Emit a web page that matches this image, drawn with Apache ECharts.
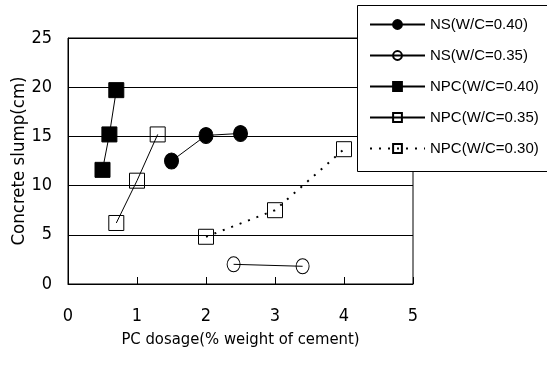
<!DOCTYPE html>
<html>
<head>
<meta charset="utf-8">
<script src="https://cdn.jsdelivr.net/npm/echarts@6/dist/echarts.min.js"></script>
<style>
  html, body { margin: 0; padding: 0; background: #fff; }
  #chart { width: 547px; height: 368px; }
</style>
</head>
<body>
<div id="chart"></div>
<script>
// Slump vs. PC dosage for each mix
const nsW040  = [[1.5, 12.5], [2.0, 15.1], [2.5, 15.3]];
const nsW035  = [[2.4, 2.0], [3.4, 1.8]];
const npcW040 = [[0.5, 11.6], [0.6, 15.2], [0.7, 19.7]];
const npcW035 = [[0.7, 6.2], [1.0, 10.5], [1.3, 15.2]];
const npcW030 = [[2.0, 4.8], [3.0, 7.5], [4.0, 13.7]];

const seriesNames = ['NS(W/C=0.40)', 'NS(W/C=0.35)', 'NPC(W/C=0.40)', 'NPC(W/C=0.35)', 'NPC(W/C=0.30)'];
const xTicks = [0, 1, 2, 3, 4, 5];
const yTicks = [0, 5, 10, 15, 20, 25];

const axisFont = 'DejaVu Sans Condensed, sans-serif';
const titleFont = 'DejaVu Sans Condensed, sans-serif';

function lineSeries(name, data, symbol, size, filled, dashed) {
  return {
    name: name,
    type: 'line',
    data: data,
    symbol: symbol,
    symbolSize: size,
    showSymbol: true,
    animation: false,
    lineStyle: { color: '#000', width: dashed ? 2 : 1, type: dashed ? [2, 7] : 'solid' },
    itemStyle: {
      color: filled ? '#000' : 'transparent',
      borderColor: '#000',
      borderWidth: 1
    },
    z: 2
  };
}

const chart = echarts.init(document.getElementById('chart'), null, { renderer: 'canvas' });
chart.setOption({
  animation: false,
  backgroundColor: '#fff',
  grid: {
    left: 68, top: 38, right: 134, bottom: 84,
    containLabel: false,
    outerBoundsMode: 'none',
    show: true, borderColor: '#000', borderWidth: 1, backgroundColor: 'transparent'
  },
  xAxis: {
    type: 'value',
    min: xTicks[0], max: xTicks[xTicks.length - 1], interval: 1,
    name: 'PC dosage(% weight of cement)',
    nameLocation: 'middle',
    nameGap: 47,
    nameMoveOverlap: false,
    nameTextStyle: { fontFamily: titleFont, fontSize: 16.5, color: '#000' },
    axisLine: { lineStyle: { color: '#000', width: 1 } },
    axisTick: { show: true, inside: true, length: 7, lineStyle: { color: '#000' } },
    axisLabel: { margin: 23, fontFamily: axisFont, fontSize: 18, color: '#000' },
    splitLine: { show: false }
  },
  yAxis: {
    type: 'value',
    min: yTicks[0], max: yTicks[yTicks.length - 1], interval: 5,
    name: 'Concrete slump(cm)',
    nameLocation: 'middle',
    nameGap: 39,
    nameMoveOverlap: false,
    nameTextStyle: { fontFamily: titleFont, fontSize: 18.5, color: '#000' },
    axisLine: { show: true, lineStyle: { color: '#000', width: 1 } },
    axisTick: { show: false },
    axisLabel: { margin: 16, fontFamily: axisFont, fontSize: 18, color: '#000' },
    splitLine: { show: true, lineStyle: { color: '#000', width: 1 } }
  },
  graphic: [{
    type: 'rect',
    shape: { x: 357.5, y: 5.5, width: 190, height: 166 },
    style: { fill: '#fff', stroke: '#000', lineWidth: 1 },
    z: 3
  }],
  legend: {
    orient: 'vertical',
    left: 369, top: 17,
    padding: 0,
    itemWidth: 55, itemHeight: 11, itemGap: 16,
    selectedMode: false,
    data: seriesNames,
    textStyle: { fontFamily: 'Liberation Sans, Arial, sans-serif', fontSize: 15, color: '#000' },
    z: 4
  },
  series: [
    lineSeries(seriesNames[0], nsW040, 'circle', [14, 16], true, false),
    lineSeries(seriesNames[1], nsW035, 'circle', [13, 15], false, false),
    lineSeries(seriesNames[2], npcW040, 'rect', 15, true, false),
    lineSeries(seriesNames[3], npcW035, 'rect', 15, false, false),
    lineSeries(seriesNames[4], npcW030, 'rect', 15, false, true)
  ]
});
</script>
</body>
</html>
